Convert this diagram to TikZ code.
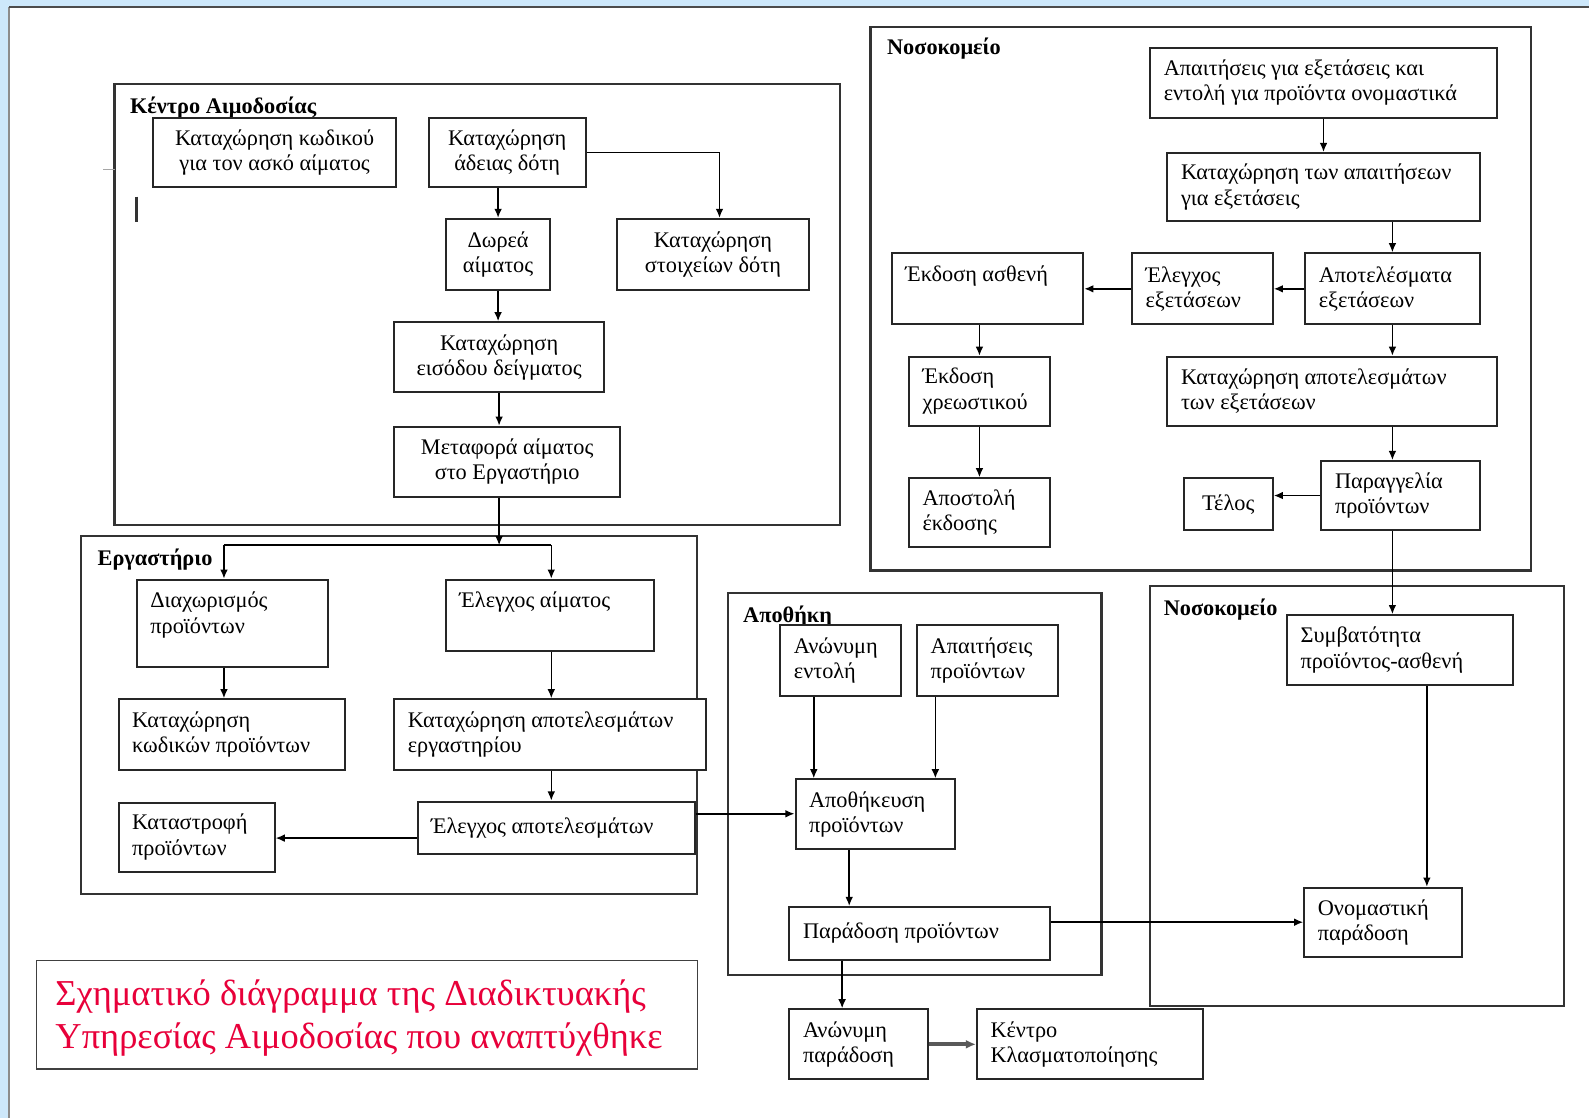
\documentclass[tikz,border=0pt]{standalone}
\usepackage{fontspec}
\setmainfont{Liberation Serif}
\usetikzlibrary{arrows.meta}
\definecolor{bgblue}{RGB}{205,232,251}
\definecolor{capred}{RGB}{232,0,58}
\newcommand\boxfont{\fontsize{11}{12.5}\selectfont}
\tikzset{
  box/.style={draw=black!85, line width=1pt, inner sep=0pt, fill=white},
  frame/.style={draw=black!80, line width=1.1pt},
  txt/.style={inner sep=0pt, align=left, font=\boxfont},
  lbl/.style={inner sep=0pt, anchor=base west, font=\fontsize{11}{13}\selectfont\bfseries},
  arr/.style={draw=black, line width=0.75pt, -{Latex[length=4.5pt,width=3.8pt]}},
  plain/.style={draw=black, line width=0.75pt},
}
% centred text box: name, x1, y1, x2, y2, text
\newcommand\bxc[6]{\pgfmathsetmacro\bw{(#4-#2)*0.5}\pgfmathsetmacro\bh{(#5-#3)*0.5}%
  \node[box, minimum width=\bw pt, minimum height=\bh pt, align=center, font=\boxfont] (#1) at ({(#2+#4)/2},{(#3+#5)/2}) {#6};}
% left text box, vertically centred
\newcommand\bxl[6]{\pgfmathsetmacro\bw{(#4-#2)*0.5}\pgfmathsetmacro\bh{(#5-#3)*0.5}%
  \node[box, minimum width=\bw pt, minimum height=\bh pt] (#1) at ({(#2+#4)/2},{(#3+#5)/2}) {};
  \node[txt, anchor=west] (#1t) at ([xshift=7pt]#1.west) {#6};}
% left text box, text at top
\newcommand\bxt[6]{\pgfmathsetmacro\bw{(#4-#2)*0.5}\pgfmathsetmacro\bh{(#5-#3)*0.5}%
  \node[box, minimum width=\bw pt, minimum height=\bh pt] (#1) at ({(#2+#4)/2},{(#3+#5)/2}) {};
  \node[txt, anchor=north west] (#1t) at ([shift={(7pt,-6.5pt)}]#1.north west) {#6};}
\begin{document}
\begin{tikzpicture}[x=0.5pt,y=-0.5pt]
\useasboundingbox (0,0) rectangle (1568,1103);
\fill[bgblue] (0,0) rectangle (1568,1103);
\fill[white] (9,7) rectangle (1568,1103);
\draw[black!45, line width=0.8pt] (9,1103) -- (9,7);
\draw[black!70, line width=0.8pt] (9,7) -- (1568,7);

% frames
\draw[frame] (113,83) rectangle (829,518);
\draw[frame] (80,529) rectangle (688,882);
\draw[frame] (718,585) rectangle (1087,962);
\draw[frame] (859,27) rectangle (1511,563);
\draw[frame] (1135,578) rectangle (1543,993);
\node[lbl] (lK) at (128,112) {Κέντρο Αιμοδοσίας};
\node[lbl] (lE) at (96,558) {Εργαστήριο};
\node[lbl] (lA) at (733,614) {Αποθήκη};
\node[lbl] (lN1) at (875,54) {Νοσοκομείο};
\node[lbl] (lN2) at (1148,607) {Νοσοκομείο};

% stray marks
\draw[black!80, line width=1.3pt] (135,194) -- (135,219);
\draw[black!35, line width=0.6pt] (102,167) -- (113,167);

% Κέντρο Αιμοδοσίας
\bxc{A1}{151}{116}{391}{185}{Καταχώρηση κωδικού\\για τον ασκό αίματος}
\bxc{A2}{423}{116}{578}{185}{Καταχώρηση\\άδειας δότη}
\bxc{A3}{440}{216}{543}{286}{Δωρεά\\αίματος}
\bxc{A4}{609}{216}{798}{286}{Καταχώρηση\\στοιχείων δότη}
\bxc{A5}{389}{318}{596}{387}{Καταχώρηση\\εισόδου δείγματος}
\bxc{A6}{389}{421}{612}{490}{Μεταφορά αίματος\\στο Εργαστήριο}

% Εργαστήριο
\bxt{L1}{135}{572}{324}{658}{Διαχωρισμός\\προϊόντων}
\bxt{L2}{440}{572}{645}{642}{Έλεγχος αίματος}
\bxl{L3}{117}{690}{340}{760}{Καταχώρηση\\κωδικών προϊόντων}
\bxl{L4}{389}{690}{697}{760}{Καταχώρηση αποτελεσμάτων\\εργαστηρίου}
\bxl{L5}{412}{791}{686}{843}{Έλεγχος αποτελεσμάτων}
\bxl{L6}{117}{792}{271}{860}{Καταστροφή\\προϊόντων}

% Αποθήκη
\bxl{S1}{770}{617}{889}{687}{Ανώνυμη\\εντολή}
\bxl{S2}{905}{617}{1044}{687}{Απαιτήσεις\\προϊόντων}
\bxl{S3}{785}{769}{942}{838}{Αποθήκευση\\προϊόντων}
\bxl{S4}{779}{895}{1036}{947}{Παράδοση προϊόντων}
\bxl{S5}{779}{996}{916}{1065}{Ανώνυμη\\παράδοση}
\bxl{S6}{964}{996}{1187}{1065}{Κέντρο\\Κλασματοποίησης}

% Νοσοκομείο (upper)
\bxl{N1}{1135}{47}{1477}{116}{Απαιτήσεις για εξετάσεις και\\εντολή για προϊόντα ονομαστικά}
\bxl{N2}{1152}{151}{1460}{218}{Καταχώρηση των απαιτήσεων\\για εξετάσεις}
\bxl{N3}{1288}{250}{1460}{320}{Αποτελέσματα\\εξετάσεων}
\bxl{N4}{1117}{250}{1256}{320}{Έλεγχος\\εξετάσεων}
\bxt{N5}{880}{250}{1069}{320}{Έκδοση ασθενή}
\bxl{N6}{897}{352}{1036}{420}{Έκδοση\\χρεωστικού}
\bxl{N7}{897}{472}{1036}{540}{Αποστολή\\έκδοσης}
\bxl{N8}{1152}{352}{1477}{420}{Καταχώρηση αποτελεσμάτων\\των εξετάσεων}
\bxl{N9}{1304}{455}{1460}{523}{Παραγγελία\\προϊόντων}
\bxc{N10}{1168}{472}{1256}{523}{Τέλος}

% Νοσοκομείο (lower)
\bxl{H1}{1270}{607}{1493}{676}{Συμβατότητα\\προϊόντος-ασθενή}
\bxl{H2}{1287}{876}{1443}{944}{Ονομαστική\\παράδοση}

% caption
\node[draw=black!75, line width=0.7pt, minimum width=326pt, minimum height=53.5pt, inner sep=0pt] (capbox) at (362,1001.5) {};
\node[inner sep=0pt, anchor=west, align=left, text=capred, font=\fontsize{18}{21.5}\selectfont] (cap) at ([xshift=9.5pt,yshift=-1.5pt]capbox.west) {Σχηματικό διάγραμμα της Διαδικτυακής\\Υπηρεσίας Αιμοδοσίας που αναπτύχθηκε};

% helper coordinates
\coordinate (J) at (492.5,538);
\coordinate (JL) at (221,538);
\coordinate (JR) at (544,538);
\coordinate (xS1) at (803,0);
\coordinate (xS2) at (923,0);
\coordinate (xS3) at (838,0);
\coordinate (xS4) at (831,0);
\coordinate (xH1) at (1408,0);
\coordinate (xN1) at (1306,0);

% connectors: Κέντρο Αιμοδοσίας
\draw[arr] (A3.north |- A2.south) -- (A3.north);
\draw[arr] (A2.east) -| ([xshift=3.25pt]A4.north);
\draw[arr] (A3.south) -- (A3.south |- A5.north);
\draw[arr] (A5.south) -- (A5.south |- A6.north);
\draw[arr] (A6.south -| J) -- (J);
\draw[plain] (JL) -- (JR);
\draw[arr] (JL) -- (JL |- L1.north);
\draw[arr] (JR) -- (JR |- L2.north);
% Εργαστήριο
\draw[arr] (L1.south -| JL) -- (L3.north -| JL);
\draw[arr] (L2.south -| JR) -- (L4.north -| JR);
\draw[arr] (L4.south -| JR) -- (L5.north -| JR);
\draw[arr] ([yshift=-5pt]L5.west) -- ([yshift=-5pt]L5.west -| L6.east);
\draw[arr] ([yshift=7pt]L5.east) -- ([yshift=7pt]L5.east -| S3.west);
% Αποθήκη
\draw[arr] (S1.south -| xS1) -- (S3.north -| xS1);
\draw[arr] (S2.south -| xS2) -- (S3.north -| xS2);
\draw[arr] (S3.south -| xS3) -- (S4.north -| xS3);
\draw[arr] (S4.south -| xS4) -- (S5.north -| xS4);
\draw[draw=black!65, line width=2pt, -{Latex[length=5pt,width=4.5pt]}] (S5.east) -- (S6.west);
\draw[arr] (S4.east |- H2.west) -- (H2.west);
% Νοσοκομείο
\draw[arr] (N1.south -| xN1) -- (N2.north -| xN1);
\draw[arr] (N3.north |- N2.south) -- (N3.north);
\draw[arr] (N3.west) -- (N4.east);
\draw[arr] (N4.west) -- (N5.east);
\draw[arr] (N6.north |- N5.south) -- (N6.north);
\draw[arr] (N6.south) -- (N7.north);
\draw[arr] (N3.south) -- (N3.south |- N8.north);
\draw[arr] (N3.south |- N8.south) -- (N3.south |- N9.north);
\draw[arr] (N9.west) -- (N9.west -| N10.east);
\draw[arr] (N3.south |- N9.south) -- (N3.south |- H1.north);
\draw[arr] (H1.south -| xH1) -- (H2.north -| xH1);
\end{tikzpicture}
\end{document}
